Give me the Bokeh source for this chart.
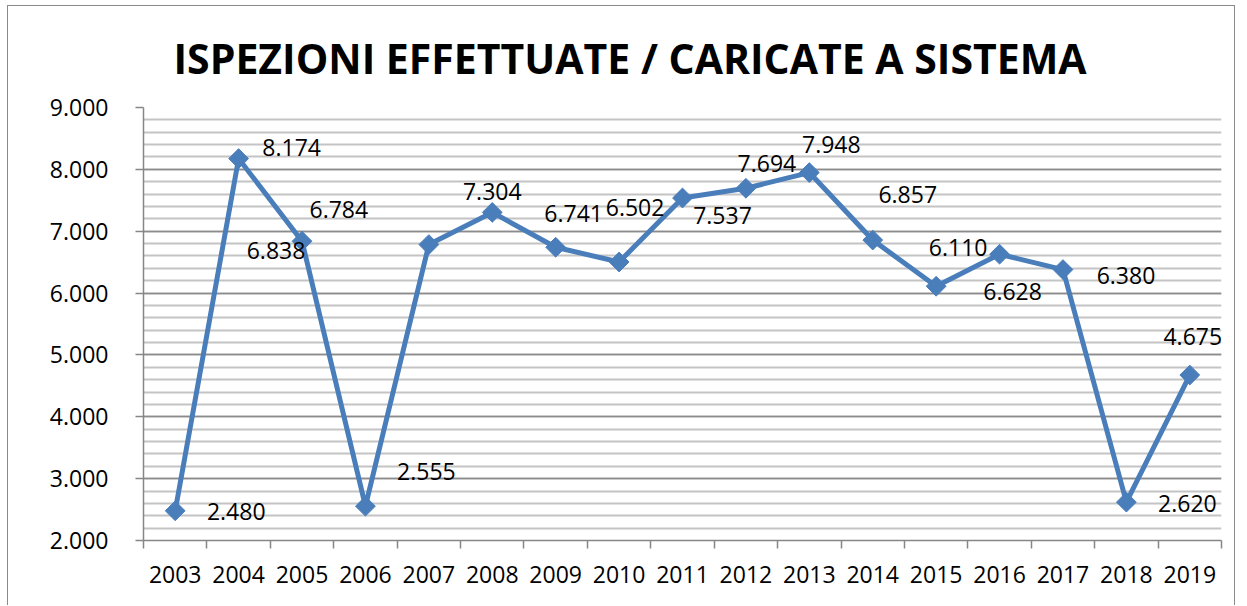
import numpy as np
from bokeh.plotting import figure
from bokeh.models import Range1d, FixedTicker, ColumnDataSource, CustomJSTickFormatter
from bokeh.core.properties import value
from bokeh.embed import file_html
from bokeh.resources import INLINE

# ---- data ----
years = ["2003", "2004", "2005", "2006", "2007", "2008", "2009", "2010", "2011",
         "2012", "2013", "2014", "2015", "2016", "2017", "2018", "2019"]
inspections = [2480, 8174, 6838, 2555, 6784, 7304, 6741, 6502, 7537,
               7694, 7948, 6857, 6110, 6628, 6380, 2620, 4675]
y_ticks = [2000, 3000, 4000, 5000, 6000, 7000, 8000, 9000]
y_tick_labels = ["2.000", "3.000", "4.000", "5.000", "6.000", "7.000", "8.000", "9.000"]
value_labels = ["2.480", "8.174", "6.838", "2.555", "6.784", "7.304", "6.741", "6.502", "7.537",
                "7.694", "7.948", "6.857", "6.110", "6.628", "6.380", "2.620", "4.675"]
title_text = "ISPEZIONI EFFETTUATE / CARICATE A SISTEMA"

# ---- styling: label offsets in pixels (as placed in the original) ----
label_dx = [61, 53, -26, 61, -90, 0, 18, 16, 40, 21, 22, 35, 22, 13, 63, 61, 3]
label_dy = [1, -11, 9, -35, -35, -21, -34, -55, 18, -25, -28, -46, -39, 37, 6, 1, -39]

n = len(years)
xc = [i + 0.5 for i in range(n)]
src = ColumnDataSource(dict(x=xc, y=inspections, label=value_labels, dx=label_dx, dy=label_dy))

FONT = "Open Sans"
BLUE = "#4A7EBB"
GRAY = "#868686"
FS = "23px"

p = figure(width=1228, height=600, x_range=Range1d(0, n), y_range=Range1d(2000, 9000),
           output_backend="svg", toolbar_location=None,
           min_border_left=135, min_border_right=15, min_border_top=101, min_border_bottom=66)
p.outline_line_color = None
p.background_fill_color = "white"
p.border_fill_color = "white"
p.styles = {"margin-left": "7px", "margin-top": "5px",
            "border-left": "1px solid #8a8a8a", "border-top": "1px solid #8a8a8a",
            "border-right": "1px solid #8a8a8a"}

# title
p.title.text = title_text
p.title.align = "left"
p.title.offset = 30
p.title.text_font = FONT
p.title.text_font_style = "bold"
p.title.text_font_size = "41px"
p.title.text_color = "black"
if "standoff" in p.title.properties():
    p.title.standoff = 43

# y axis
minor = list(range(2000, 9001, 200))
p.yaxis.ticker = FixedTicker(ticks=y_ticks, minor_ticks=minor)
p.yaxis.major_label_overrides = {t: l for t, l in zip(y_ticks, y_tick_labels)}
p.yaxis.major_label_text_font = FONT
p.yaxis.major_label_text_font_size = FS
p.yaxis.major_label_text_color = "black"
p.yaxis.major_tick_out = 8
p.yaxis.major_tick_in = 0
p.yaxis.minor_tick_out = 0
p.yaxis.minor_tick_in = 0
p.yaxis.major_label_standoff = 27
p.yaxis.axis_line_color = GRAY
p.yaxis.major_tick_line_color = GRAY
p.yaxis.axis_line_width = 1.5
p.yaxis.major_tick_line_width = 1.5

# x axis: labels at category centers, ticks at category boundaries
p.xaxis.ticker = FixedTicker(ticks=xc, minor_ticks=list(range(0, n + 1)))
p.xaxis.formatter = CustomJSTickFormatter(args=dict(years=years),
                                          code="return years[Math.floor(tick)];")
p.xaxis.major_label_text_font = FONT
p.xaxis.major_label_text_font_size = FS
p.xaxis.major_label_text_color = "black"
p.xaxis.major_tick_out = 0
p.xaxis.major_tick_in = 0
p.xaxis.minor_tick_out = 8
p.xaxis.minor_tick_in = 0
p.xaxis.major_label_standoff = 17
p.xaxis.axis_line_color = GRAY
p.xaxis.minor_tick_line_color = GRAY
p.xaxis.axis_line_width = 1.5
p.xaxis.minor_tick_line_width = 1.5

# grids
p.xgrid.visible = False
p.ygrid.grid_line_color = "#8c8c8c"
p.ygrid.grid_line_width = 1.5
p.ygrid.minor_grid_line_color = "#c4c4c4"
p.ygrid.minor_grid_line_width = 2

# series
p.line("x", "y", source=src, line_color=BLUE, line_width=5)
p.scatter("x", "y", source=src, marker="square", angle=np.pi / 4, size=14,
          fill_color=BLUE, line_color=BLUE)
p.text("x", "y", text="label", x_offset="dx", y_offset="dy", source=src,
       text_font=value(FONT), text_font_size=FS, text_align="center",
       text_baseline="middle", text_color="black")

open("out.html", "w").write(file_html(p, INLINE))
